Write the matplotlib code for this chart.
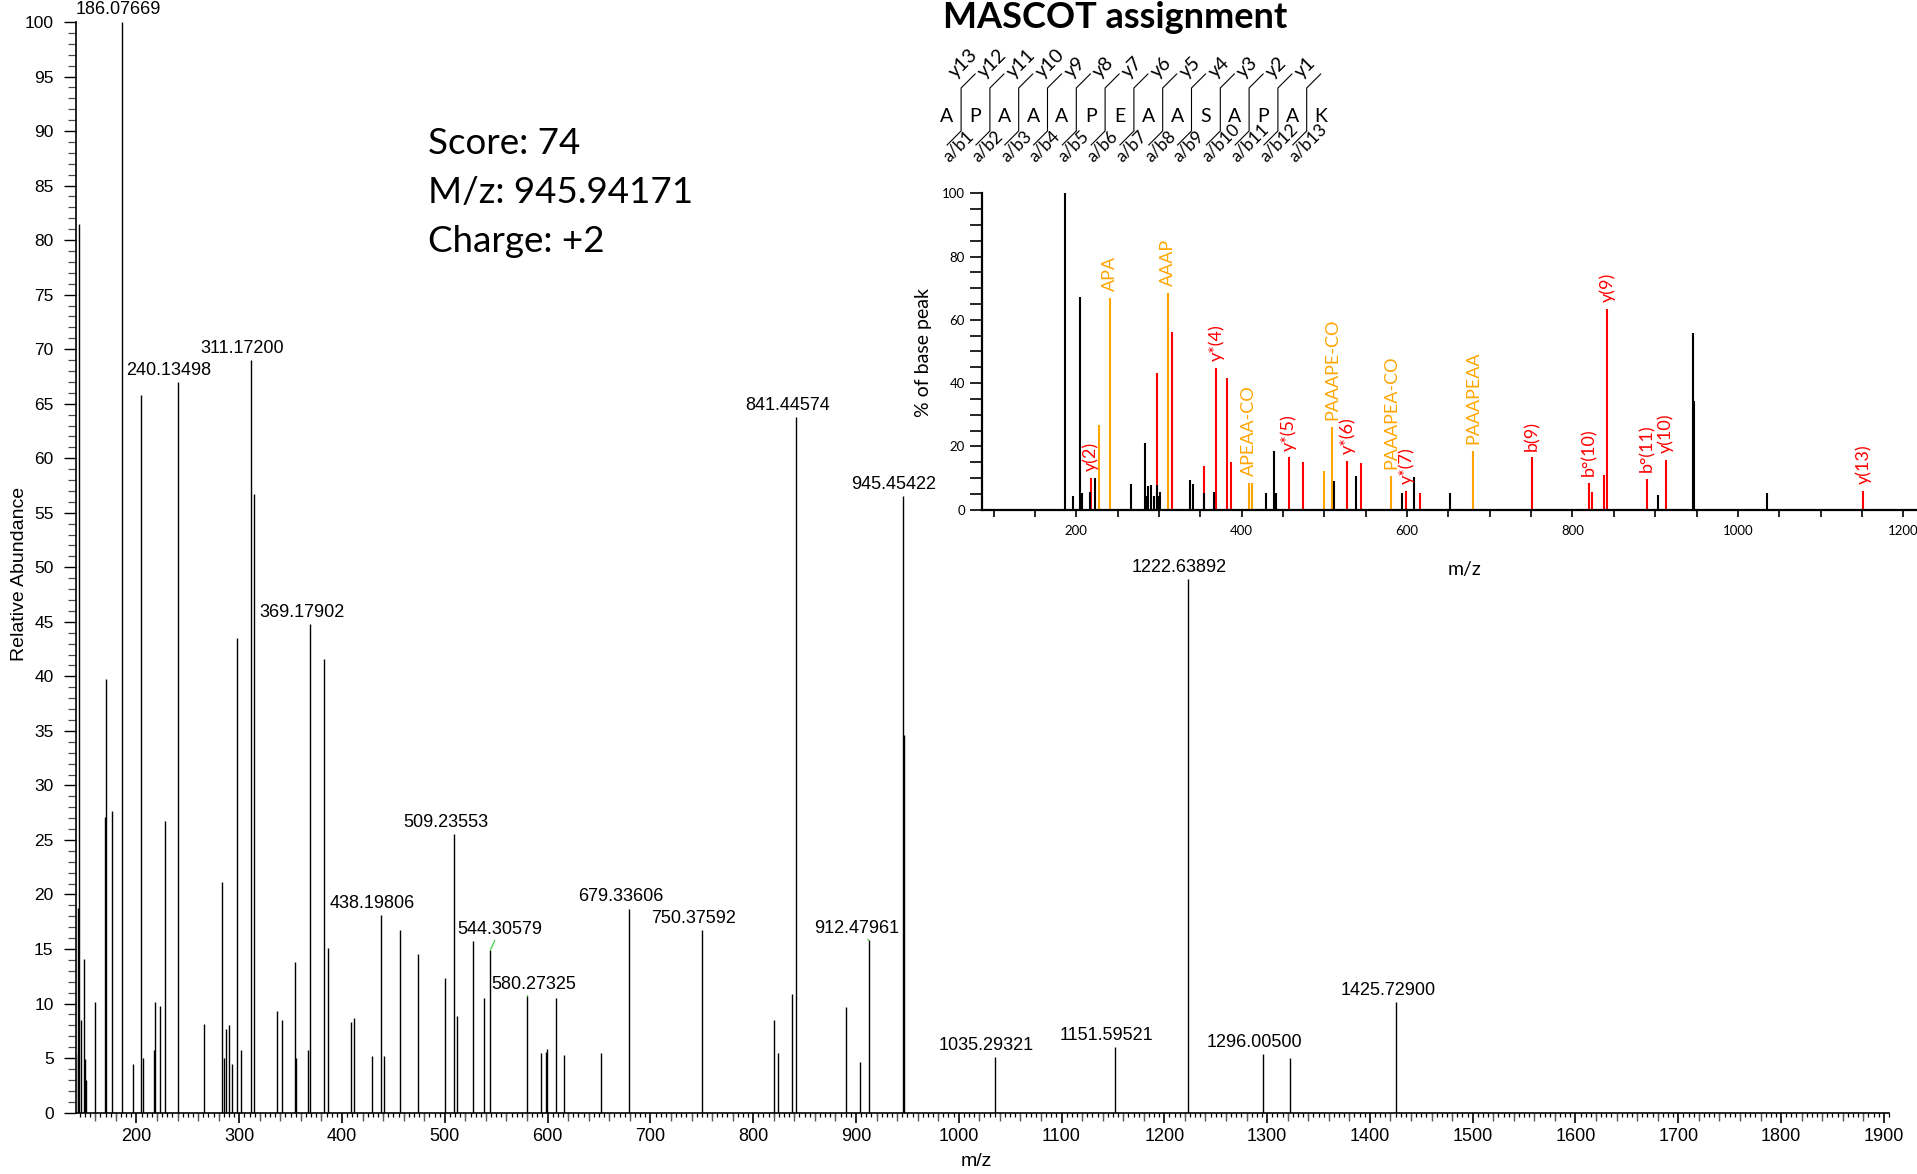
import numpy as np
import matplotlib.pyplot as plt

W, H = 1917, 1174

# ---- main spectrum (Relative Abundance vs m/z) ----
main_mz = [142.8, 143.5, 144.3, 146.0, 148.5, 150.2, 151.3, 159.2, 169.5, 170.6,
           176.4, 186.07669, 196.4, 204.1, 206.5, 217.1, 218.1, 222.6, 227.4, 240.13498,
           266.2, 283.6, 285.2, 287.2, 290.4, 293.2, 297.6, 301.7, 311.17200, 314.8,
           337.2, 341.3, 354.6, 355.5, 367.1, 369.17902, 382.4, 386.5, 408.3, 411.8,
           428.9, 438.19806, 441.0, 456.7, 474.1, 499.9, 509.23553, 511.6, 527.8, 537.8,
           544.30579, 580.27325, 594.0, 598.0, 599.2, 608.5, 615.5, 651.8, 679.33606, 750.37592,
           820.1, 823.8, 837.9, 841.44574, 890.6, 903.5, 912.47961, 945.45422, 946.5, 1035.29321,
           1151.59521, 1222.63892, 1296.00500, 1322.5, 1425.72900]
main_int = [18.8, 5.4, 81.5, 8.5, 14.1, 4.9, 3.0, 10.1, 27.1, 39.8,
            27.7, 100.0, 4.5, 65.8, 5.0, 5.7, 10.1, 9.8, 26.7, 67.0,
            8.1, 21.1, 5.0, 7.7, 8.0, 4.5, 43.5, 5.7, 69.0, 56.7,
            9.3, 8.5, 13.8, 5.0, 5.7, 44.8, 41.6, 15.1, 8.3, 8.7,
            5.2, 18.1, 5.2, 16.7, 14.5, 12.3, 25.5, 8.9, 15.7, 10.5,
            14.9, 10.7, 5.5, 5.6, 5.8, 10.5, 5.3, 5.5, 18.7, 16.7,
            8.5, 5.5, 10.9, 63.8, 9.7, 4.6, 15.8, 56.5, 34.6, 5.1,
            6.0, 48.9, 5.4, 5.0, 10.1]
main_labeled = [186.07669, 240.13498, 311.17200, 369.17902, 438.19806, 509.23553,
                544.30579, 580.27325, 679.33606, 750.37592, 841.44574, 912.47961,
                945.45422, 1035.29321, 1151.59521, 1222.63892, 1296.00500, 1425.72900]
# label offsets (points) that differ from the default, and which get a leader line
label_shift = {186.07669: (-2.6, 8.8), 544.30579: (7.0, 15.0),
               580.27325: (4.4, 8.4), 912.47961: (-8.8, 8.8)}
leader = [544.30579, 580.27325, 912.47961]

# ---- MASCOT inset (% of base peak) ----
ins_black_mz = [186.1, 196.4, 204.0, 206.5, 217.0, 222.6, 266.2, 283.6, 285.0, 287.0,
                290.4, 293.4, 297.3, 299.0, 301.6, 337.3, 341.2, 355.0, 367.1, 428.9,
                438.5, 441.0, 511.6, 537.8, 594.0, 608.4, 651.8, 903.5, 945.8, 947.0, 1035.2]
ins_black_int = [100.0, 4.3, 67.1, 5.2, 5.7, 9.9, 8.1, 21.0, 4.2, 7.4,
                 7.8, 4.2, 7.8, 4.4, 5.5, 9.4, 8.2, 5.2, 5.6, 5.3,
                 18.5, 5.2, 9.2, 10.6, 5.4, 10.3, 5.4, 4.6, 55.7, 34.5, 5.2]
ins_red_mz = [217.8, 297.8, 315.4, 354.6, 369.1, 382.4, 386.5, 456.7, 474.1, 527.8,
              544.7, 599.0, 615.8, 751.3, 820.1, 823.8, 837.9, 841.9, 890.6, 912.8, 1151.5]
ins_red_int = [9.9, 43.3, 56.1, 13.9, 44.7, 41.5, 15.2, 16.5, 15.2, 15.5,
               14.9, 5.9, 5.3, 16.5, 8.5, 5.6, 11.0, 63.4, 9.7, 15.7, 6.0]
ins_red_lab = ['y(2)', '', '', '', 'y*(4)', '', '', 'y*(5)', '', 'y*(6)',
               '', 'y*(7)', '', 'b(9)', 'b°(10)', '', '', 'y(9)', 'b°(11)', 'y(10)', 'y(13)']
ins_orange_mz = [227.4, 240.4, 311.4, 408.3, 412.3, 499.9, 509.6, 581.0, 680.0]
ins_orange_int = [26.8, 66.8, 68.4, 8.5, 8.5, 12.3, 26.2, 10.6, 18.5]
ins_orange_lab = ['', 'APA', 'AAAP', 'APEAA-CO', '', '', 'PAAAPE-CO', 'PAAAPEA-CO', 'PAAAPEAA']

sequence = list("APAAAPEAASAPAK")
info_lines = ["Score: 74", "M/z: 945.94171", "Charge: +2"]

RED = '#ff0000'
ORANGE = '#ffa500'

plt.rcParams['font.family'] = ['Liberation Sans', 'DejaVu Sans']

fig = plt.figure(figsize=(W / 100, H / 100), dpi=100)

# main axes
ax = fig.add_axes([75.8 / W, 1 - 1112.6 / H, (1889 - 75.8) / W, (1112.6 - 22) / H])
ax.vlines(main_mz, 0, main_int, color='black', lw=1.0)
ax.set_xlim(141, 1905)
ax.set_ylim(0, 100)
for s in ['top', 'right']:
    ax.spines[s].set_visible(False)
for s in ['left', 'bottom']:
    ax.spines[s].set_linewidth(1.2)
ax.set_xticks(np.arange(200, 1901, 100))
ax.set_xticks(np.arange(145, 1906, 5), minor=True)
ax.set_yticks(np.arange(0, 101, 5))
ax.set_yticks(np.arange(0, 101, 1), minor=True)
ax.tick_params(axis='x', which='major', length=7.5, width=1.2, labelsize=13, pad=3.5)
ax.tick_params(axis='x', which='minor', length=3, width=0.9)
ax.tick_params(axis='y', which='major', length=8.5, width=1.0, labelsize=12.5, pad=7.5)
ax.tick_params(axis='y', which='minor', length=6, width=0.9, color='0.3')
med = [v for v in range(160, 1905, 20) if v % 100]
ax.plot(med, np.zeros(len(med)), ls='none', marker=3, markersize=5.5, mew=1.0,
        color='0.35', clip_on=False, transform=ax.get_xaxis_transform())
ax.set_ylabel("Relative Abundance", fontsize=14)
ax.yaxis.set_label_coords(-0.0265, 0.494)
ax.set_xlabel("m/z", fontsize=14)
ax.xaxis.set_label_coords(0.4965, -0.037)

for m in main_labeled:
    h = main_int[main_mz.index(m)]
    dx, dy = label_shift.get(m, (-6.2, 8.4))
    arrow = None
    if m in leader:
        arrow = dict(arrowstyle='-', color='#44cc44', lw=0.9, shrinkA=0, shrinkB=0)
    ax.annotate(f"{m:.5f}", (m, h), xytext=(dx, dy), textcoords='offset points',
                ha='center', va='center', fontsize=13, arrowprops=arrow)

# overlay in pixel coordinates for free text and the fragment diagram
ov = fig.add_axes([0, 0, 1, 1])
ov.set_xlim(0, W)
ov.set_ylim(H, 0)
ov.axis('off')
ov.patch.set_alpha(0)

for i, line in enumerate(info_lines):
    ov.text(428, 154 + 49 * i, line, fontsize=26.5, family='Lato', va='baseline', ha='left')

ov.text(943, 28, "MASCOT assignment", fontsize=26, family='Lato', weight='bold',
        va='baseline', ha='left')

x0, step = 946.7, 28.8
for i, aa in enumerate(sequence):
    ov.text(x0 + i * step, 121.5, aa, ha='center', va='baseline', fontsize=14, family='Lato')
n = len(sequence)
for i in range(n - 1):
    xg = x0 + (i + 0.5) * step
    ov.plot([xg + 14, xg, xg, xg - 14], [74, 88, 131, 145], color='black', lw=0.8)
    ov.text(xg - 3, 80.5, f"y{n - 1 - i}", rotation=45, rotation_mode='anchor',
            ha='left', va='bottom', fontsize=14, family='Lato')
    ov.text(xg - 12, 163, f"a/b{i + 1}", rotation=45, rotation_mode='anchor',
            ha='left', va='baseline', fontsize=12.5, family='Lato')

# inset
ax2 = fig.add_axes([981.7 / W, 1 - 509.7 / H, (W - 981.7) / W, (509.7 - 193.3) / H])
ax2.patch.set_alpha(0)
ax2.vlines(ins_red_mz, 0, ins_red_int, color=RED, lw=1.5)
ax2.vlines(ins_orange_mz, 0, ins_orange_int, color=ORANGE, lw=1.5)
ax2.vlines(ins_black_mz, 0, ins_black_int, color='black', lw=1.5)
ax2.set_xlim(85.6, 1216.6)
ax2.set_ylim(0, 100)
for s in ['top', 'right']:
    ax2.spines[s].set_visible(False)
for s in ['left', 'bottom']:
    ax2.spines[s].set_linewidth(1.6)
ax2.set_xticks(np.arange(200, 1201, 200))
ax2.set_xticks(np.arange(100, 1201, 50), minor=True)
ax2.set_yticks(np.arange(0, 101, 20))
ax2.set_yticks(np.arange(0, 101, 5), minor=True)
ax2.tick_params(axis='x', which='both', length=5, width=1.2, labelsize=9.5, pad=6)
ax2.tick_params(axis='y', which='both', length=9, width=1.2, labelsize=9.5, pad=3)
for t in ax2.get_xticklabels() + ax2.get_yticklabels():
    t.set_family('Lato')
ax2.set_ylabel("% of base peak", fontsize=14, family='Lato')
ax2.yaxis.set_label_coords(-0.053, 0.498)
ax2.set_xlabel("m/z", fontsize=14, family='Lato')
ax2.xaxis.set_label_coords(0.5157, -0.163)

for mz, h, lab, col in list(zip(ins_red_mz, ins_red_int, ins_red_lab, [RED] * 99)) + \
        list(zip(ins_orange_mz, ins_orange_int, ins_orange_lab, [ORANGE] * 99)):
    if lab:
        ax2.annotate(lab, (mz, h), xytext=(0, 5), textcoords='offset points', rotation=90,
                     ha='center', va='bottom', color=col, fontsize=13, family='Lato')

fig.savefig("out.png", dpi=100)
